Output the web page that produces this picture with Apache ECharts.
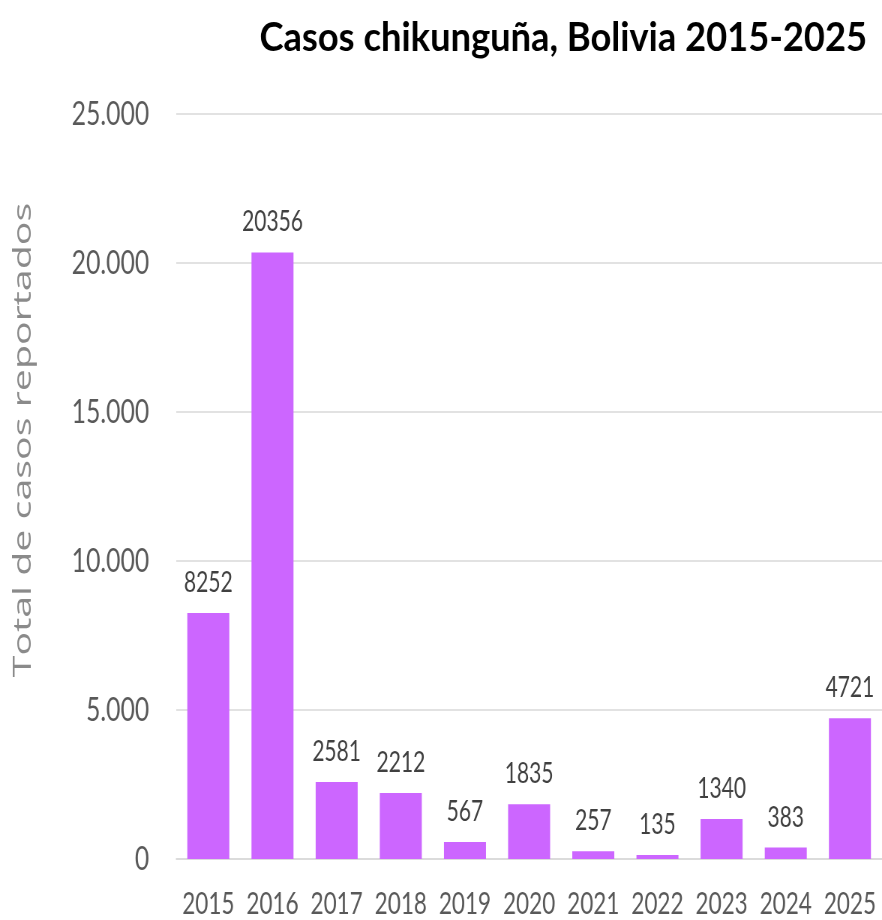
<!DOCTYPE html>
<html>
<head>
<meta charset="utf-8">
<style>
html,body{margin:0;padding:0;background:#fff;overflow:hidden;width:882px;height:920px;}
#chart{width:1176px;height:920px;transform:scaleX(0.75);transform-origin:0 0;}
</style>
<script src="https://cdn.jsdelivr.net/npm/echarts@6/dist/echarts.min.js"></script>
</head>
<body>
<div id="chart"></div>
<script>
const years = ['2015','2016','2017','2018','2019','2020','2021','2022','2023','2024','2025'];
const cases = [8252, 20356, 2581, 2212, 567, 1835, 257, 135, 1340, 383, 4721];
const yTicks = [0, 5000, 10000, 15000, 20000, 25000];
const titleText = 'Casos chikunguña, Bolivia 2015-2025';
const yAxisTitle = 'Total de casos reportados';

const font = 'Lato, "Open Sans", sans-serif';
const chart = echarts.init(document.getElementById('chart'));
chart.setOption({
  animation: false,
  backgroundColor: '#fff',
  graphic: [{
    type: 'text',
    x: 1156, y: 38,
    scaleX: 1.18,
    style: {
      text: titleText,
      font: 'bold 41px Lato, "Open Sans", sans-serif',
      fill: '#000',
      align: 'right',
      verticalAlign: 'middle'
    }
  }, {
    type: 'text',
    x: 32, y: 440,
    rotation: Math.PI / 2,
    scaleX: 1.23,
    style: {
      text: yAxisTitle,
      font: '32px "Open Sans", sans-serif',
      fill: '#8a8a8a',
      align: 'center',
      verticalAlign: 'middle'
    }
  }],
  grid: {left: 235, right: -3, top: 114, bottom: 61},
  xAxis: {
    type: 'category',
    data: years,
    axisLine: {lineStyle: {color: '#d9d9d9', width: 1.5}},
    axisTick: {show: false},
    axisLabel: {fontFamily: font, fontSize: 30, color: '#595959', margin: 30, interval: 0}
  },
  yAxis: {
    type: 'value',
    min: yTicks[0],
    max: yTicks[yTicks.length - 1],
    interval: 5000,
    axisLine: {show: false},
    axisTick: {show: false},
    splitLine: {lineStyle: {color: '#d9d9d9', width: 1.5}},
    axisLabel: {
      fontFamily: font, fontSize: 33, color: '#595959', margin: 36,
      formatter: v => v === 0 ? '0' : v.toLocaleString('de-DE')
    }
  },
  series: [{
    type: 'bar',
    data: cases,
    barWidth: 56,
    itemStyle: {color: '#CC66FF'},
    label: {
      show: true,
      position: 'top',
      distance: 16,
      fontFamily: font,
      fontSize: 28,
      color: '#404040'
    }
  }]
});
</script>
</body>
</html>
